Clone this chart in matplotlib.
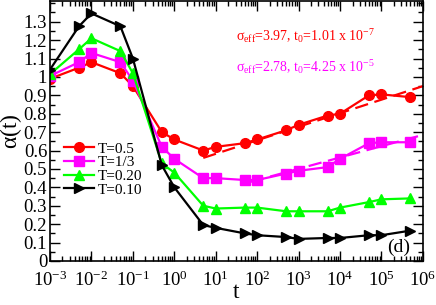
import numpy as np
import matplotlib
matplotlib.use("Agg")
import matplotlib.pyplot as plt
from matplotlib.ticker import FixedLocator, FuncFormatter, LogLocator, MultipleLocator

plt.rcParams['font.family'] = ['Liberation Serif', 'DejaVu Serif']
plt.rcParams['mathtext.fontset'] = 'custom'
plt.rcParams['mathtext.rm'] = 'Liberation Serif'
plt.rcParams['mathtext.it'] = 'Liberation Serif'

# times (same grid for all curves)
t = [1e-3, 5e-3, 1e-2, 5e-2, 1e-1, 5e-1, 1, 5, 10, 50, 100, 500, 1e3, 5e3, 1e4, 5e4, 1e5, 5e5]

# alpha(t) for each temperature
a_05 = [0.99, 1.05, 1.08, 1.02, 0.95, 0.70, 0.66, 0.60, 0.62, 0.64, 0.66, 0.71, 0.74, 0.79, 0.80, 0.90, 0.905, 0.89]
a_13 = [1.005, 1.08, 1.13, 1.08, 0.98, 0.62, 0.555, 0.45, 0.45, 0.44, 0.44, 0.475, 0.49, 0.51, 0.555, 0.64, 0.645, 0.645]
a_020 = [1.015, 1.15, 1.21, 1.14, 1.02, 0.53, 0.48, 0.30, 0.285, 0.29, 0.29, 0.27, 0.27, 0.27, 0.29, 0.32, 0.335, 0.34]
a_010 = [1.04, 1.275, 1.345, 1.275, 1.10, 0.52, 0.40, 0.195, 0.18, 0.15, 0.14, 0.13, 0.12, 0.125, 0.125, 0.14, 0.14, 0.165]

# dashed fits (straight in log t)
fit_red_t = [5, 1e6]
fit_red_a = [0.56, 0.95]
fit_mag_t = [70, 1e6]
fit_mag_a = [0.43, 0.685]

yticks = [0, 0.1, 0.2, 0.3, 0.4, 0.5, 0.6, 0.7, 0.8, 0.9, 1.0, 1.1, 1.2, 1.3]

fig = plt.figure(figsize=(4.36, 3.05), dpi=100)
ax = fig.add_axes([0.1147, 0.1443, 0.8553, 0.8540])

ax.plot(t, a_05, '-o', color='#ff0000', lw=1.6, ms=7, label='T=0.5')
ax.plot(t, a_13, '-s', color='#ff00ff', lw=1.6, ms=6.5, label='T=1/3')
ax.plot(t, a_020, '-^', color='#00ff00', lw=1.6, ms=7, label='T=0.20')
ax.plot(t, a_010, '->', color='black', lw=1.6, ms=7, label='T=0.10')

ax.plot(fit_red_t, fit_red_a, '--', color='#ff0000', lw=1.6, dashes=(6, 3))
ax.plot(fit_mag_t, fit_mag_a, '--', color='#ff00ff', lw=1.6, dashes=(6, 3))

ax.set_xscale('log')
ax.set_xlim(1e-3, 1e6)
ax.set_ylim(0, 1.415)

ax.xaxis.set_major_locator(LogLocator(base=10, numticks=20))
ax.xaxis.set_minor_locator(LogLocator(base=10, subs=np.arange(2, 10), numticks=20))
ax.yaxis.set_major_locator(FixedLocator(yticks))
ax.yaxis.set_minor_locator(MultipleLocator(0.05))
ax.yaxis.set_major_formatter(FuncFormatter(lambda v, p: f"{v:g}"))

ax.tick_params(which='both', direction='in', top=True, right=True, labelsize=13.5, width=1)
ax.tick_params(which='major', length=7, pad=2)
ax.tick_params(axis='x', which='major', pad=7)
ax.tick_params(which='minor', length=3.5)
for s in ax.spines.values():
    s.set_linewidth(1.2)

ax.set_xlabel('t', fontsize=17, labelpad=-6)
ax.set_ylabel(r'$\alpha$(t)', fontsize=17, labelpad=0)

ax.text(0.50, 0.845, r'$\sigma_{\rm eff}$=3.97, t$_0$=1.01 x 10$^{-7}$', transform=ax.transAxes,
        color='#ff0000', fontsize=10)
ax.text(0.50, 0.725, r'$\sigma_{\rm eff}$=2.78, t$_0$=4.25 x 10$^{-5}$', transform=ax.transAxes,
        color='#ff00ff', fontsize=10)
ax.text(0.905, 0.035, '(d)', transform=ax.transAxes, fontsize=14)

ax.legend(loc='upper left', bbox_to_anchor=(0.0, 0.51), frameon=False, fontsize=11,
          handlelength=2.0, handletextpad=0.2, labelspacing=0.0, borderaxespad=0.5)

fig.savefig('out.png', dpi=100)
